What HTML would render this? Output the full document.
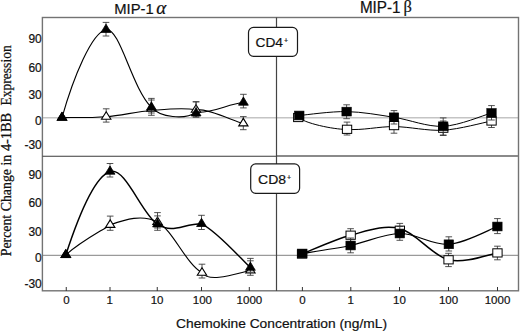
<!DOCTYPE html>
<html><head><meta charset="utf-8"><style>
html,body{margin:0;padding:0;background:#fff;}
svg{display:block;}
.s{font-family:"Liberation Sans",sans-serif;fill:#111;stroke:#111;stroke-width:0.2px;}
.r{font-family:"Liberation Serif",serif;fill:#111;stroke:#111;stroke-width:0.25px;}
.g{font-family:"Liberation Serif",serif;fill:#111;stroke:#111;stroke-width:0.2px;}
</style></head><body>
<svg width="520" height="332" viewBox="0 0 520 332">
<line x1="43" y1="117.8" x2="518" y2="117.8" stroke="#c4c4c4" stroke-width="1.4"/>
<line x1="43" y1="255.4" x2="518" y2="255.4" stroke="#9a9a9a" stroke-width="1.3"/>
<rect x="42.4" y="17.5" width="476.1" height="273.3" fill="none" stroke="#737373" stroke-width="1.4"/>
<line x1="42.5" y1="156.3" x2="276.5" y2="156.3" stroke="#3a3a3a" stroke-width="1.1"/>
<line x1="276.5" y1="155.9" x2="518" y2="155.9" stroke="#8a8a8a" stroke-width="2"/>
<line x1="276.5" y1="17.5" x2="276.5" y2="291" stroke="#444" stroke-width="1.2"/>
<line x1="66.25" y1="287" x2="66.25" y2="291" stroke="#333" stroke-width="1"/>
<line x1="110" y1="287" x2="110" y2="291" stroke="#333" stroke-width="1"/>
<line x1="157.25" y1="287" x2="157.25" y2="291" stroke="#333" stroke-width="1"/>
<line x1="201.5" y1="287" x2="201.5" y2="291" stroke="#333" stroke-width="1"/>
<line x1="249.3" y1="287" x2="249.3" y2="291" stroke="#333" stroke-width="1"/>
<line x1="302.4" y1="287" x2="302.4" y2="291" stroke="#333" stroke-width="1"/>
<line x1="350.8" y1="287" x2="350.8" y2="291" stroke="#333" stroke-width="1"/>
<line x1="399.5" y1="287" x2="399.5" y2="291" stroke="#333" stroke-width="1"/>
<line x1="448.5" y1="287" x2="448.5" y2="291" stroke="#333" stroke-width="1"/>
<line x1="497.5" y1="287" x2="497.5" y2="291" stroke="#333" stroke-width="1"/>
<path d="M62.0,117.6 C69.4,117.4 91.3,117.9 106.2,116.7 C121.1,115.5 136.4,111.7 151.4,110.5 C166.4,109.3 181.1,107.5 196.0,109.7 C210.0,108.4 236.6,122.7 243.3,123.4" fill="none" stroke="#000" stroke-width="1.1"/>
<path d="M106.2,108.8 V122.1 M102.9,108.8 H109.5 M102.9,122.1 H109.5" stroke="#333" stroke-width="0.85" fill="none"/>
<path d="M151.4,100.0 V115.3 M148.1,100.0 H154.7 M148.1,115.3 H154.7" stroke="#333" stroke-width="0.85" fill="none"/>
<path d="M196.0,101.8 V117.0 M192.7,101.8 H199.3 M192.7,117.0 H199.3" stroke="#333" stroke-width="0.85" fill="none"/>
<path d="M243.3,116.6 V129.7 M240.0,116.6 H246.6 M240.0,129.7 H246.6" stroke="#333" stroke-width="0.85" fill="none"/>
<polygon points="62.0,112.6 66.7,120.1 57.4,120.1" fill="#fff" stroke="#000" stroke-width="1.1"/>
<polygon points="106.2,111.7 110.9,119.2 101.5,119.2" fill="#fff" stroke="#000" stroke-width="1.1"/>
<polygon points="151.4,103.6 156.1,111.1 146.8,111.1" fill="#fff" stroke="#000" stroke-width="1.1"/>
<polygon points="196.0,104.7 200.7,112.2 191.3,112.2" fill="#fff" stroke="#000" stroke-width="1.1"/>
<polygon points="243.3,118.4 248.0,125.9 238.7,125.9" fill="#fff" stroke="#000" stroke-width="1.1"/>
<path d="M62.0,117.6 C73.3,77.6 92.0,32.0 106.0,29.7 C120.0,27.4 131.4,87.3 151.4,107.3 C160.1,117.3 184.8,120.2 196.1,112.2 C212.8,113.5 228.1,103.8 243.4,102.5" fill="none" stroke="#000" stroke-width="1.15"/>
<path d="M106.0,22.4 V36.0 M102.7,22.4 H109.3 M102.7,36.0 H109.3" stroke="#333" stroke-width="0.85" fill="none"/>
<path d="M151.4,98.4 V113.0 M148.1,98.4 H154.7 M148.1,113.0 H154.7" stroke="#333" stroke-width="0.85" fill="none"/>
<path d="M196.1,101.8 V117.0 M192.8,101.8 H199.4 M192.8,117.0 H199.4" stroke="#333" stroke-width="0.85" fill="none"/>
<path d="M243.4,94.3 V107.9 M240.1,94.3 H246.7 M240.1,107.9 H246.7" stroke="#333" stroke-width="0.85" fill="none"/>
<polygon points="62.0,112.1 67.0,120.3 57.0,120.3" fill="#000" stroke="#000" stroke-width="0.8"/>
<polygon points="106.0,24.2 111.0,32.4 101.0,32.4" fill="#000" stroke="#000" stroke-width="0.8"/>
<polygon points="151.4,101.8 156.3,110.0 146.5,110.0" fill="#000" stroke="#000" stroke-width="0.8"/>
<polygon points="196.1,107.7 201.0,115.9 191.2,115.9" fill="#000" stroke="#000" stroke-width="0.8"/>
<polygon points="243.4,97.0 248.3,105.2 238.5,105.2" fill="#000" stroke="#000" stroke-width="0.8"/>
<path d="M298.2,117.5 C308.2,124.8 339.0,130.0 347.0,129.3 C363.0,130.6 378.0,126.5 394.0,126.6 C410.0,126.7 426.9,131.1 443.2,130.2 C459.4,129.3 483.4,122.5 491.5,121.0" fill="none" stroke="#000" stroke-width="1.0"/>
<path d="M347.0,122.1 V135.0 M343.7,122.1 H350.3 M343.7,135.0 H350.3" stroke="#333" stroke-width="0.85" fill="none"/>
<path d="M394.0,119.0 V133.2 M390.7,119.0 H397.3 M390.7,133.2 H397.3" stroke="#333" stroke-width="0.85" fill="none"/>
<path d="M443.2,121.0 V135.0 M439.9,121.0 H446.5 M439.9,135.0 H446.5" stroke="#333" stroke-width="0.85" fill="none"/>
<path d="M491.5,114.0 V127.5 M488.2,114.0 H494.8 M488.2,127.5 H494.8" stroke="#333" stroke-width="0.85" fill="none"/>
<rect x="293.6" y="113.4" width="9.3" height="8.2" fill="#fff" stroke="#000" stroke-width="1"/>
<rect x="342.4" y="125.2" width="9.3" height="8.2" fill="#fff" stroke="#000" stroke-width="1"/>
<rect x="389.4" y="121.5" width="9.3" height="8.2" fill="#fff" stroke="#000" stroke-width="1"/>
<rect x="438.6" y="124.1" width="9.3" height="8.2" fill="#fff" stroke="#000" stroke-width="1"/>
<rect x="486.9" y="116.9" width="9.3" height="8.2" fill="#fff" stroke="#000" stroke-width="1"/>
<path d="M299.3,115.5 C307.2,114.8 330.8,111.3 346.6,111.6 C362.4,111.9 377.9,114.8 394.0,117.3 C410.1,119.8 426.9,127.0 443.2,126.3 C459.4,125.6 483.4,115.2 491.5,113.0" fill="none" stroke="#000" stroke-width="1.0"/>
<path d="M346.6,104.8 V118.7 M343.3,104.8 H349.9 M343.3,118.7 H349.9" stroke="#333" stroke-width="0.85" fill="none"/>
<path d="M394.0,110.6 V124.0 M390.7,110.6 H397.3 M390.7,124.0 H397.3" stroke="#333" stroke-width="0.85" fill="none"/>
<path d="M443.2,117.9 V135.5 M439.9,117.9 H446.5 M439.9,135.5 H446.5" stroke="#333" stroke-width="0.85" fill="none"/>
<path d="M491.5,105.6 V120.0 M488.2,105.6 H494.8 M488.2,120.0 H494.8" stroke="#333" stroke-width="0.85" fill="none"/>
<rect x="294.6" y="111.1" width="9.4" height="8.8" fill="#000" stroke="#000" stroke-width="0.6"/>
<rect x="341.9" y="107.2" width="9.4" height="8.8" fill="#000" stroke="#000" stroke-width="0.6"/>
<rect x="389.3" y="112.9" width="9.4" height="8.8" fill="#000" stroke="#000" stroke-width="0.6"/>
<rect x="438.5" y="121.9" width="9.4" height="8.8" fill="#000" stroke="#000" stroke-width="0.6"/>
<rect x="486.8" y="108.6" width="9.4" height="8.8" fill="#000" stroke="#000" stroke-width="0.6"/>
<path d="M65.8,254.9 C80.5,241.6 98.9,232.2 110.2,224.9 C125.5,219.4 142.2,214.0 157.5,222.0 C172.8,230.0 186.5,264.6 202.0,272.7 C209.3,283.4 237.7,273.2 250.4,270.5" fill="none" stroke="#000" stroke-width="1.15"/>
<path d="M110.2,216.1 V230.3 M106.9,216.1 H113.5 M106.9,230.3 H113.5" stroke="#333" stroke-width="0.85" fill="none"/>
<path d="M157.5,212.6 V228.0 M154.2,212.6 H160.8 M154.2,228.0 H160.8" stroke="#333" stroke-width="0.85" fill="none"/>
<path d="M202.0,264.2 V278.0 M198.7,264.2 H205.3 M198.7,278.0 H205.3" stroke="#333" stroke-width="0.85" fill="none"/>
<path d="M250.4,258.4 V275.3 M247.1,258.4 H253.7 M247.1,275.3 H253.7" stroke="#333" stroke-width="0.85" fill="none"/>
<polygon points="65.8,249.9 70.5,257.4 61.1,257.4" fill="#fff" stroke="#000" stroke-width="1.1"/>
<polygon points="110.2,219.9 114.9,227.4 105.5,227.4" fill="#fff" stroke="#000" stroke-width="1.1"/>
<polygon points="157.5,217.0 162.2,224.5 152.8,224.5" fill="#fff" stroke="#000" stroke-width="1.1"/>
<polygon points="202.0,267.7 206.7,275.2 197.3,275.2" fill="#fff" stroke="#000" stroke-width="1.1"/>
<polygon points="250.4,265.5 255.1,273.0 245.8,273.0" fill="#fff" stroke="#000" stroke-width="1.1"/>
<path d="M65.8,254.9 C77.8,218.2 94.7,176.6 110.0,171.5 C125.3,166.4 141.8,214.2 157.5,224.2 C173.2,234.2 182.8,223.8 201.5,223.8 C217.0,231.0 242.2,260.3 250.4,267.6" fill="none" stroke="#000" stroke-width="1.45"/>
<path d="M110.0,163.5 V177.0 M106.7,163.5 H113.3 M106.7,177.0 H113.3" stroke="#333" stroke-width="0.85" fill="none"/>
<path d="M157.5,215.9 V230.3 M154.2,215.9 H160.8 M154.2,230.3 H160.8" stroke="#333" stroke-width="0.85" fill="none"/>
<path d="M201.5,215.3 V229.5 M198.2,215.3 H204.8 M198.2,229.5 H204.8" stroke="#333" stroke-width="0.85" fill="none"/>
<path d="M250.4,260.8 V272.2 M247.1,260.8 H253.7 M247.1,272.2 H253.7" stroke="#333" stroke-width="0.85" fill="none"/>
<polygon points="65.8,249.4 70.8,257.6 60.8,257.6" fill="#000" stroke="#000" stroke-width="0.8"/>
<polygon points="110.0,166.0 115.0,174.2 105.0,174.2" fill="#000" stroke="#000" stroke-width="0.8"/>
<polygon points="157.5,218.7 162.4,226.9 152.6,226.9" fill="#000" stroke="#000" stroke-width="0.8"/>
<polygon points="201.5,218.3 206.4,226.5 196.6,226.5" fill="#000" stroke="#000" stroke-width="0.8"/>
<polygon points="250.4,262.1 255.3,270.3 245.5,270.3" fill="#000" stroke="#000" stroke-width="0.8"/>
<path d="M302.0,254.0 C310.1,250.9 334.3,239.4 350.6,235.2 C366.9,231.0 383.5,224.5 399.8,228.6 C416.1,232.7 432.2,255.8 448.5,259.8 C464.8,263.9 489.2,254.1 497.4,252.9" fill="none" stroke="#000" stroke-width="1.5"/>
<path d="M350.6,228.7 V242.0 M347.3,228.7 H353.9 M347.3,242.0 H353.9" stroke="#333" stroke-width="0.85" fill="none"/>
<path d="M399.8,223.4 V237.0 M396.5,223.4 H403.1 M396.5,237.0 H403.1" stroke="#333" stroke-width="0.85" fill="none"/>
<path d="M448.5,253.3 V266.6 M445.2,253.3 H451.8 M445.2,266.6 H451.8" stroke="#333" stroke-width="0.85" fill="none"/>
<path d="M497.4,246.2 V259.8 M494.1,246.2 H500.7 M494.1,259.8 H500.7" stroke="#333" stroke-width="0.85" fill="none"/>
<rect x="297.4" y="249.9" width="9.3" height="8.2" fill="#fff" stroke="#000" stroke-width="1"/>
<rect x="346.0" y="231.1" width="9.3" height="8.2" fill="#fff" stroke="#000" stroke-width="1"/>
<rect x="395.2" y="226.1" width="9.3" height="8.2" fill="#fff" stroke="#000" stroke-width="1"/>
<rect x="443.9" y="255.7" width="9.3" height="8.2" fill="#fff" stroke="#000" stroke-width="1"/>
<rect x="492.8" y="248.8" width="9.3" height="8.2" fill="#fff" stroke="#000" stroke-width="1"/>
<path d="M302.3,253.5 C310.4,252.2 334.4,248.8 350.6,245.5 C366.9,242.2 383.4,233.7 399.8,233.5 C416.2,233.3 432.5,245.5 448.8,244.3 C465.1,243.1 489.3,229.5 497.4,226.5" fill="none" stroke="#000" stroke-width="1.2"/>
<path d="M350.6,238.0 V252.8 M347.3,238.0 H353.9 M347.3,252.8 H353.9" stroke="#333" stroke-width="0.85" fill="none"/>
<path d="M399.8,226.5 V240.3 M396.5,226.5 H403.1 M396.5,240.3 H403.1" stroke="#333" stroke-width="0.85" fill="none"/>
<path d="M448.8,236.8 V251.0 M445.5,236.8 H452.1 M445.5,251.0 H452.1" stroke="#333" stroke-width="0.85" fill="none"/>
<path d="M497.4,218.6 V233.6 M494.1,218.6 H500.7 M494.1,233.6 H500.7" stroke="#333" stroke-width="0.85" fill="none"/>
<rect x="297.6" y="249.1" width="9.4" height="8.8" fill="#000" stroke="#000" stroke-width="0.6"/>
<rect x="345.9" y="241.1" width="9.4" height="8.8" fill="#000" stroke="#000" stroke-width="0.6"/>
<rect x="395.1" y="229.1" width="9.4" height="8.8" fill="#000" stroke="#000" stroke-width="0.6"/>
<rect x="444.1" y="239.9" width="9.4" height="8.8" fill="#000" stroke="#000" stroke-width="0.6"/>
<rect x="492.7" y="222.1" width="9.4" height="8.8" fill="#000" stroke="#000" stroke-width="0.6"/>
<rect x="248.5" y="27.4" width="49" height="28.9" rx="5" fill="#fff" stroke="#1a1a1a" stroke-width="1.2"/>
<text x="255.5" y="47.3" font-size="13.3" class="s" textLength="27.5" lengthAdjust="spacingAndGlyphs">CD4</text><text x="283.9" y="42.8" font-size="7" class="s">+</text>
<rect x="250.7" y="163.9" width="48.9" height="29.4" rx="5" fill="#fff" stroke="#1a1a1a" stroke-width="1.2"/>
<text x="258.1" y="184.1" font-size="13.3" class="s" textLength="28" lengthAdjust="spacingAndGlyphs">CD8</text><text x="286.9" y="179.8" font-size="7" class="s">+</text>
<text x="114.2" y="13.8" font-size="15.5" class="s" textLength="39.5" lengthAdjust="spacingAndGlyphs">MIP-1</text>
<text x="156.3" y="13.9" font-size="18.5" class="g" font-style="italic" textLength="10" lengthAdjust="spacingAndGlyphs">α</text>
<text x="359.9" y="12.5" font-size="15.8" class="s" textLength="40.7" lengthAdjust="spacingAndGlyphs">MIP-1</text>
<text x="403.4" y="12.3" font-size="16.5" class="g" textLength="8.4" lengthAdjust="spacingAndGlyphs">β</text>
<text x="41.8" y="42.5" font-size="12" text-anchor="end" class="s">90</text>
<text x="41.8" y="71.6" font-size="12" text-anchor="end" class="s">60</text>
<text x="41.8" y="98.9" font-size="12" text-anchor="end" class="s">30</text>
<text x="41.8" y="124.6" font-size="12" text-anchor="end" class="s">0</text>
<text x="41.8" y="149.3" font-size="12" text-anchor="end" class="s">-30</text>
<text x="41.8" y="178.8" font-size="12" text-anchor="end" class="s">90</text>
<text x="41.8" y="206.8" font-size="12" text-anchor="end" class="s">60</text>
<text x="41.8" y="235.7" font-size="12" text-anchor="end" class="s">30</text>
<text x="41.8" y="262.3" font-size="12" text-anchor="end" class="s">0</text>
<text x="41.8" y="287.9" font-size="12" text-anchor="end" class="s">-30</text>
<text x="66.4" y="304" font-size="11.5" text-anchor="middle" class="s">0</text>
<text x="109.7" y="304" font-size="11.5" text-anchor="middle" class="s">1</text>
<text x="157.1" y="304" font-size="11.5" text-anchor="middle" class="s">10</text>
<text x="202.4" y="304" font-size="11.5" text-anchor="middle" class="s">100</text>
<text x="249.4" y="304" font-size="11.5" text-anchor="middle" class="s">1000</text>
<text x="302.4" y="304" font-size="11.5" text-anchor="middle" class="s">0</text>
<text x="350.8" y="304" font-size="11.5" text-anchor="middle" class="s">1</text>
<text x="399.5" y="304" font-size="11.5" text-anchor="middle" class="s">10</text>
<text x="448.5" y="304" font-size="11.5" text-anchor="middle" class="s">100</text>
<text x="497.5" y="304" font-size="11.5" text-anchor="middle" class="s">1000</text>
<text x="176" y="327.8" font-size="13.5" class="s" textLength="211" lengthAdjust="spacingAndGlyphs">Chemokine Concentration (ng/mL)</text>
<text transform="translate(11.1,256.3) rotate(-90)" font-size="14" class="r" textLength="101.5" lengthAdjust="spacingAndGlyphs">Percent Change in</text>
<text transform="translate(11.1,151.1) rotate(-90)" font-size="14" class="r" textLength="38.3" lengthAdjust="spacingAndGlyphs">4-1BB</text>
<text transform="translate(11.1,105.5) rotate(-90)" font-size="14" class="r" textLength="60.2" lengthAdjust="spacingAndGlyphs">Expression</text>
</svg>
</body></html>
